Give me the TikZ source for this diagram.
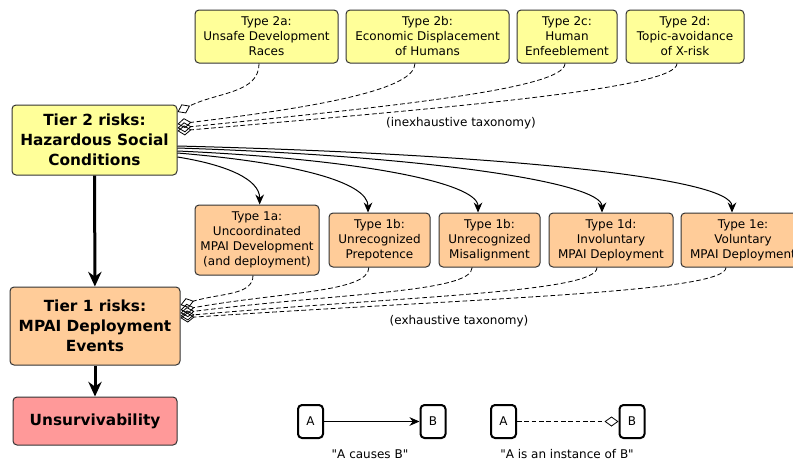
\documentclass[tikz,border=0pt]{standalone}
\usepackage{fontspec}
\setmainfont{DejaVu Sans}
\usetikzlibrary{arrows.meta}
\definecolor{tiertwo}{HTML}{FFFF99}
\definecolor{tierone}{HTML}{FFCC99}
\definecolor{doom}{HTML}{FF9999}

\begin{document}
\begin{tikzpicture}[x=0.75pt,y=-0.75pt,
    box/.style={draw=black!80,line width=0.75pt,rounded corners=3pt,align=center,inner sep=0pt,
      font=\fontsize{9}{11.25}\selectfont},
    tier/.style={box,font=\fontsize{11.5}{15}\selectfont\bfseries},
    legbox/.style={draw=black,line width=1.5pt,rounded corners=3pt,fill=white,inner sep=0pt,
      minimum width=18.75pt,minimum height=24.75pt,font=\fontsize{9}{11}\selectfont},
    causes/.style={line width=0.75pt,-{Stealth[length=7.5pt,width=6.5pt]}},
    bigcause/.style={line width=2.25pt,-{Stealth[length=11pt,width=10pt]}},
    instance/.style={line width=0.6pt,dash pattern=on 3.5pt off 2pt,-{Diamond[open,length=10.5pt,width=7.5pt]}}]
    \useasboundingbox (0,0) rectangle (793,462);

    \node[tier,fill=tiertwo,minimum width=123.75pt,minimum height=52.5pt] (tier2) at (94.5,140)
      {Tier 2 risks:\\Hazardous Social\\Conditions};
    \node[tier,fill=tierone,minimum width=127.5pt,minimum height=58.5pt] (tier1) at (95,326)
      {Tier 1 risks:\\MPAI Deployment\\Events};
    \node[tier,fill=doom,minimum width=123pt,minimum height=36pt] (unsurv) at (95,421) {Unsurvivability};

    \node[box,fill=tiertwo,minimum width=107.25pt,minimum height=39.75pt] (t2a) at (266.5,36.5)
      {Type 2a:\\Unsafe Development\\Races};
    \node[box,fill=tiertwo,minimum width=122.25pt,minimum height=39.75pt] (t2b) at (427.5,36.5)
      {Type 2b:\\Economic Displacement\\of Humans};
    \node[box,fill=tiertwo,minimum width=75pt,minimum height=39.75pt] (t2c) at (567,36.5)
      {Type 2c:\\Human\\Enfeeblement};
    \node[box,fill=tiertwo,minimum width=88.5pt,minimum height=39.75pt] (t2d) at (685,36.5)
      {Type 2d:\\Topic-avoidance\\of X-risk};

    \node[box,fill=tierone,minimum width=93pt,minimum height=52.5pt] (t1a) at (257,240)
      {Type 1a:\\Uncoordinated\\MPAI Development\\(and deployment)};
    \node[box,fill=tierone,minimum width=75.75pt,minimum height=40.5pt] (t1b) at (379.5,240)
      {Type 1b:\\Unrecognized\\Prepotence};
    \node[box,fill=tierone,minimum width=75.75pt,minimum height=40.5pt] (t1c) at (489.5,240)
      {Type 1b:\\Unrecognized\\Misalignment};
    \node[box,fill=tierone,minimum width=93pt,minimum height=40.5pt] (t1d) at (611,240)
      {Type 1d:\\Involuntary\\MPAI Deployment};
    \node[box,fill=tierone,minimum width=93pt,minimum height=40.5pt] (t1e) at (743,240)
      {Type 1e:\\Voluntary\\MPAI Deployment};

    \node[font=\fontsize{9}{11}\selectfont] (inex) at (461,123) {(inexhaustive taxonomy)};
    \node[font=\fontsize{9}{11}\selectfont] (exh) at (459,321) {(exhaustive taxonomy)};

    \draw[bigcause] (tier2) -- (tier1);
    \draw[bigcause] (tier1) -- (unsurv);

    \draw[instance] ([xshift=-5.6pt]t2a.south) .. controls +(0,30) and +(40,-20) .. ([yshift=21pt]tier2.east);
    \draw[instance] ([xshift=-9.4pt]t2b.south) .. controls +(0,25) and +(150,-18) .. ([yshift=12pt]tier2.east);
    \draw[instance] ([xshift=-1.5pt]t2c.south) .. controls +(0,25) and +(220,-22) .. ([yshift=9pt]tier2.east);
    \draw[instance] ([xshift=-6pt]t2d.south) .. controls +(0,25) and +(280,-24) .. ([yshift=6.75pt]tier2.east);

    \draw[causes] ([yshift=-12.75pt]tier2.east) .. controls +(50,8) and +(0,-25) .. ([xshift=2pt]t1a.north);
    \draw[causes] ([yshift=-9.75pt]tier2.east) .. controls +(120,10) and +(0,-30) .. ([xshift=-8.6pt]t1b.north);
    \draw[causes] ([yshift=-8.25pt]tier2.east) .. controls +(180,8) and +(0,-30) .. ([xshift=-8.6pt]t1c.north);
    \draw[causes] ([yshift=-6pt]tier2.east) .. controls +(250,8) and +(0,-30) .. ([xshift=-6.75pt]t1d.north);
    \draw[causes] ([yshift=-4.5pt]tier2.east) .. controls +(320,8) and +(0,-35) .. ([xshift=-8.25pt]t1e.north);

    \draw[instance] ([xshift=-3pt]t1a.south) .. controls +(0,20) and +(40,-12) .. ([yshift=15.75pt]tier1.east);
    \draw[instance] ([xshift=-8pt]t1b.south) .. controls +(0,25) and +(100,-18) .. ([yshift=12pt]tier1.east);
    \draw[instance] ([xshift=-13pt]t1c.south) .. controls +(0,25) and +(160,-20) .. ([yshift=9.75pt]tier1.east);
    \draw[instance] ([xshift=-10.5pt]t1d.south) .. controls +(0,25) and +(230,-20) .. ([yshift=7.5pt]tier1.east);
    \draw[instance] ([xshift=-12.75pt]t1e.south) .. controls +(0,25) and +(300,-20) .. ([yshift=6pt]tier1.east);

    \node[legbox] (a1) at (310.5,421.5) {A};
    \node[legbox] (b1) at (433,421.5) {B};
    \node[legbox] (a2) at (503.5,421.5) {A};
    \node[legbox] (b2) at (632,421.5) {B};
    \draw[causes] (a1) -- (b1);
    \draw[instance] (a2) -- (b2);
    \node[font=\fontsize{9}{11}\selectfont] (cap1) at (370,454) {\textquotedbl A causes B\textquotedbl};
    \node[font=\fontsize{9}{11}\selectfont] (cap2) at (567,454) {\textquotedbl A is an instance of B\textquotedbl};
  \end{tikzpicture}
\end{document}
